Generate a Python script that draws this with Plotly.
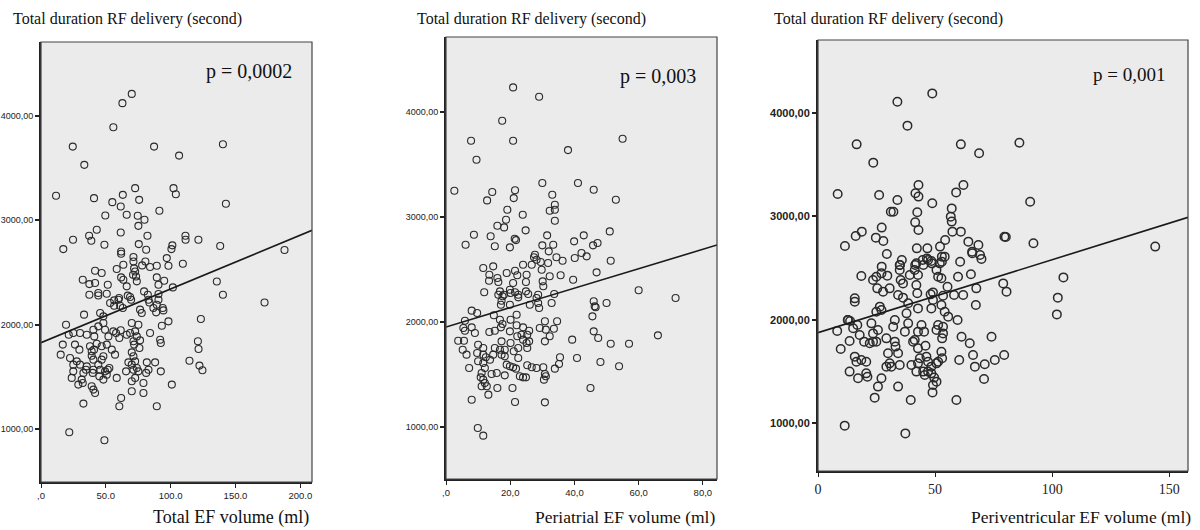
import plotly.graph_objects as go

# ---------------- data ----------------
total_ef = [
(70,4211),(62.8,4122),(55.8,3892),(24.5,3706),(87.2,3706),(140.3,3729),(33.4,3531),(106.5,3620),
(11.6,3235),(40.9,3212),(63.1,3244),(72.6,3308),(55.0,3174),(61.5,3132),(75.7,3196),(102.2,3308),
(104.0,3250),(142.6,3158),(91.3,3091),(49.6,3046),(66.1,3053),(74.6,3043),(79.8,3005),(75.1,2947),
(43.0,2909),(61.5,2883),(37.1,2852),(38.8,2804),(24.7,2813),(82.1,2852),(111.4,2852),(111.5,2813),
(121.4,2813),(48.9,2766),(75.4,2772),(81.1,2718),(17.2,2724),(61.8,2701),(100.6,2724),(101.3,2760),
(138.2,2754),(187.8,2715),(61.8,2680),(97.0,2638),(109.4,2584),(71.3,2648),(71.3,2606),(63.5,2574),
(58.4,2533),(80.5,2606),(78.0,2568),(84.1,2552),(89.3,2565),(98.3,2565),(71.8,2539),(72.6,2510),
(71.0,2478),(73.3,2462),(41.7,2517),(46.8,2495),(32.2,2431),(37.3,2389),(41.7,2399),(51.5,2383),
(61.8,2453),(63.5,2431),(66.1,2367),(73.9,2415),(89.3,2453),(95.0,2421),(90.6,2383),(101.7,2357),
(37.3,2287),(44.2,2303),(44.2,2280),(50.7,2297),(60.2,2255),(68.7,2265),(79.5,2319),(82.4,2287),
(90.6,2294),(59.7,2239),(56.4,2233),(53.3,2208),(56.4,2182),(66.9,2278),(69.5,2239),(82.9,2239),
(83.6,2213),(90.6,2239),(89.3,2191),(86.7,2160),(88.8,2118),(93.9,2160),(94.4,2137),(98.3,2032),
(93.2,1990),(123.3,2055),(76.4,2144),(77.7,2112),(63.1,2160),(61.0,2182),(45.6,2112),(48.1,2080),
(33.2,2096),(19.3,2000),(21.4,1904),(24.9,1920),(30.1,1920),(16.8,1809),(15.2,1713),(26.2,1809),
(29.6,1761),(35.3,1904),(40.4,1952),(41.1,1888),(44.2,1984),(48.1,2016),(49.4,1952),(52.0,1888),
(55.8,1936),(57.9,1920),(61.5,1946),(60.4,1872),(66.1,1904),(68.7,1920),(70.0,2016),(75.1,2000),
(72.6,1936),(73.9,1888),(71.3,1841),(71.8,1809),(76.4,1850),(75.9,1777),(70.0,1735),(71.3,1697),
(84.1,1920),(91.9,1856),(92.4,1825),(37.8,1793),(39.1,1745),(40.9,1761),(43.0,1818),(46.8,1793),
(50.7,1809),(40.4,1665),(39.1,1703),(46.8,1665),(48.1,1697),(54.6,1761),(57.1,1713),(22.4,1681),
(24.9,1617),(27.6,1649),(23.7,1490),(24.9,1553),(30.1,1617),(32.7,1538),(31.4,1474),(28.8,1426),
(32.2,1442),(35.3,1601),(34.7,1569),(40.4,1569),(39.9,1538),(44.2,1617),(45.6,1569),(45.0,1505),
(49.4,1553),(50.7,1521),(51.5,1569),(52.7,1585),(48.1,1474),(58.4,1490),(39.1,1410),(40.4,1378),
(41.7,1346),(65.6,1553),(67.4,1639),(70.0,1617),(72.6,1649),(71.3,1569),(73.9,1585),(75.1,1553),
(72.6,1490),(70.0,1458),(70.0,1362),(79.0,1442),(79.0,1346),(81.6,1639),(82.9,1569),(88.0,1639),
(81.1,1538),(92.4,1553),(100.9,1426),(114.5,1655),(121.0,1841),(121.5,1767),(122.2,1608),(124.5,1563),
(61.8,1298),(60.4,1218),(32.7,1244),(89.3,1218),(21.8,969),(48.9,893),(135.6,2414),(140.3,2287),
(172.4,2213),
]

periatrial_ef = [
(20.9,4234),(29.0,4145),(17.5,3916),(7.8,3726),(20.9,3726),(55.0,3745),(9.5,3545),(38.0,3637),
(2.6,3250),(14.4,3238),(12.8,3158),(21.5,3254),(21.1,3180),(30.0,3323),(41.1,3323),(46.0,3259),
(52.9,3164),(33.1,3212),(33.9,3117),(33.9,3069),(32.3,3060),(33.9,2964),(19.1,3069),(23.9,3021),
(18.7,2974),(18.1,2901),(16.0,2916),(24.8,2873),(8.7,2831),(13.9,2816),(6.1,2736),(15.2,2721),
(21.4,2793),(21.8,2780),(19.9,2711),(31.5,2825),(30.0,2730),(33.4,2736),(32.0,2673),(39.9,2768),
(42.9,2825),(45.8,2730),(47.2,2752),(51.0,2863),(51.3,2584),(11.6,2514),(14.7,2530),(13.5,2450),
(13.4,2393),(16.0,2419),(16.3,2381),(18.9,2466),(21.5,2488),(22.2,2445),(20.9,2371),(24.0,2545),
(25.1,2450),(24.9,2381),(26.7,2545),(27.7,2641),(27.4,2616),(28.2,2593),(29.5,2571),(29.8,2498),
(30.1,2387),(31.8,2562),(34.4,2616),(36.3,2584),(32.3,2435),(35.7,2445),(39.6,2403),(40.1,2609),
(42.2,2657),(43.8,2625),(46.9,2473),(30.3,2340),(11.9,2283),(16.8,2292),(16.3,2260),(18.0,2260),
(19.9,2307),(20.1,2276),(21.5,2283),(22.5,2260),(24.9,2292),(25.6,2267),(28.7,2260),(33.7,2267),
(17.6,2245),(17.3,2203),(17.1,2165),(19.9,2165),(22.5,2235),(26.1,2165),(28.2,2228),(28.7,2181),
(29.0,2133),(32.9,2181),(8.0,2108),(9.7,2086),(5.9,2012),(5.4,1943),(5.9,1917),(8.0,1949),
(9.0,1895),(3.8,1822),(5.6,1822),(5.2,1736),(6.4,1689),(7.2,1562),(14.9,2064),(16.8,2022),
(17.6,1981),(17.1,1949),(20.1,2022),(22.0,2069),(13.5,1905),(15.2,1917),(22.0,1969),(24.0,1949),
(25.9,1917),(25.3,1879),(19.9,1911),(22.2,1864),(23.5,1879),(24.0,1832),(29.2,1943),(30.8,2007),
(31.1,1927),(32.3,1864),(30.8,1816),(34.6,2007),(33.6,1936),(39.3,1832),(46.0,2197),(46.3,2149),
(45.6,2054),(46.0,1911),(47.4,1848),(50.0,2181),(40.8,1657),(48.1,1619),(45.0,1372),(10.0,1784),
(11.6,1752),(9.7,1705),(11.6,1689),(10.0,1626),(12.4,1664),(13.7,1641),(14.7,1689),(15.2,1752),
(17.3,1816),(16.8,1736),(18.3,1736),(17.3,1689),(18.3,1673),(20.1,1800),(21.1,1721),(22.5,1752),
(22.5,1657),(25.1,1800),(25.9,1816),(25.3,1752),(11.6,1610),(12.1,1562),(11.1,1514),(10.8,1473),
(11.6,1451),(12.1,1419),(12.7,1388),(11.1,1388),(14.2,1505),(15.8,1514),(18.3,1492),(20.9,1569),
(20.7,1372),(16.0,1372),(18.9,1594),(19.9,1578),(21.8,1556),(23.0,1483),(24.0,1473),(24.9,1473),
(25.3,1588),(26.7,1569),(28.2,1562),(30.3,1569),(30.8,1505),(31.1,1483),(30.5,1451),(33.9,1556),
(35.2,1600),(35.5,1664),(8.0,1260),(13.2,1308),(21.5,1238),(30.8,1235),(9.9,991),(11.6,918),
(60.0,2302),(71.5,2228),(66.0,1873),(57.0,1793),(51.3,1793),(53.9,1578),(46.6,2140),
]

periventricular_ef = [
(48.8,4190),(33.9,4110),(38.2,3878),(16.5,3697),(61.0,3697),(68.8,3610),(86.0,3713),(23.6,3520),
(8.4,3217),(26.1,3207),(33.9,3159),(41.6,3223),(42.9,3304),(42.9,3191),(48.8,3126),(59.0,3232),
(62.1,3304),(90.6,3142),(31.1,3045),(32.2,3045),(42.4,3039),(41.5,2942),(42.9,2868),(57.1,3077),
(56.7,2997),(57.1,2949),(57.4,2852),(61.0,2852),(11.5,2713),(16.1,2810),(18.7,2852),(24.7,2794),
(27.2,2891),(27.9,2762),(29.4,2636),(42.2,2690),(46.7,2690),(52.1,2707),(54.3,2771),(64.2,2755),
(68.5,2723),(69.2,2626),(65.9,2642),(79.6,2803),(80.2,2800),(92.0,2739),(144.0,2707),(60.7,2561),
(35.8,2578),(35.0,2529),(41.5,2529),(44.7,2578),(46.5,2593),(45.0,2529),(48.6,2545),(52.9,2610),
(52.9,2561),(27.2,2513),(18.5,2423),(23.5,2384),(24.9,2416),(27.1,2448),(25.3,2303),(27.8,2271),
(30.6,2303),(34.9,2529),(34.9,2481),(35.3,2384),(36.3,2351),(39.2,2433),(41.3,2481),(42.0,2545),
(42.7,2433),(42.0,2336),(47.0,2578),(48.4,2568),(50.6,2481),(51.3,2416),(52.7,2400),(54.1,2610),
(52.0,2545),(55.3,2319),(59.8,2416),(65.3,2439),(67.6,2303),(65.8,2658),(69.8,2588),(79.1,2351),
(80.5,2271),(42.4,2255),(48.1,2245),(49.1,2264),(53.4,2232),(58.1,2239),(62.0,2239),(34.2,2239),
(36.3,2213),(15.7,2206),(29.6,2426),(15.7,2174),(8.2,1891),(9.7,1716),(13.5,1794),(12.8,1997),
(15.0,1916),(16.8,1949),(17.8,1852),(13.5,1497),(17.1,1432),(20.6,1480),(21.1,1448),(15.7,1642),
(16.4,1593),(18.5,1610),(20.6,1593),(19.7,1787),(22.1,1771),(23.5,1787),(24.9,1787),(22.8,1964),
(23.5,1867),(25.6,1900),(26.4,2126),(27.1,2094),(24.9,2077),(29.2,1819),(29.9,1674),(30.6,1577),
(31.3,1545),(29.2,1545),(27.1,1432),(25.6,1352),(24.2,1245),(32.8,1787),(33.1,1739),(34.2,1674),
(34.2,1352),(34.9,1561),(32.1,1932),(32.8,1997),(37.1,1884),(37.8,2061),(38.5,1964),(39.9,1561),
(42.0,1497),(42.7,1577),(43.5,1626),(44.9,1497),(45.6,1465),(47.0,1497),(48.4,1480),(49.1,1368),
(48.9,1296),(46.3,1642),(47.0,1593),(45.9,1748),(42.7,1884),(44.2,1949),(45.3,1884),(41.3,1803),
(40.6,1787),(42.7,1722),(48.4,1545),(50.6,1577),(51.3,1593),(52.7,1690),(53.0,1626),(49.6,1439),
(50.6,1400),(39.6,1223),(59.1,1223),(11.4,974),(37.3,899),(38.5,2158),(42.7,2109),(48.4,2109),
(49.1,2191),(52.7,2142),(54.1,2077),(55.6,2029),(51.3,1949),(50.6,1900),(53.4,1932),(53.0,1819),
(53.4,1867),(59.6,1997),(61.3,1835),(60.3,1610),(64.8,1771),(66.2,1658),(67.0,1545),(67.4,2142),
(71.2,1568),(70.9,1426),(74.1,1835),(75.5,1610),(79.5,1658),(102.4,2213),(102.0,2051),(104.8,2409),
(12.7,1997),(13.7,1987),
]

# fit lines (end points)
fit1_x, fit1_y = [0, 209], [1828, 2904]
fit2_x, fit2_y = [0, 84.4], [1952, 2733]
fit3_x, fit3_y = [0, 158], [1874, 2990]

y_title = "Total duration RF delivery (second)"
x_titles = ["Total EF volume (ml)", "Periatrial EF volume (ml)", "Periventricular EF volume (ml)"]
p_texts = ["p = 0,0002", "p = 0,003", "p = 0,001"]

y_tickvals = [1000, 2000, 3000, 4000]
y_ticktext = ["1000,00", "2000,00", "3000,00", "4000,00"]
x1_tickvals = [0, 50, 100, 150, 200]
x1_ticktext = [",0", "50.0", "100.0", "150.0", "200.0"]
x2_tickvals = [0, 20, 40, 60, 80]
x2_ticktext = [",0", "20,0", "40,0", "60,0", "80,0"]
x3_tickvals = [0, 50, 100, 150]
x3_ticktext = ["0", "50", "100", "150"]

# ---------------- layout geometry (pixels) ----------------
W, H = 1200, 530
def dx(a, b):
    return [a / W, b / W]
def dy(top, bottom):
    return [1 - bottom / H, 1 - top / H]

panels = [
    dict(data=total_ef, fx=fit1_x, fy=fit1_y, xd=dx(41, 312), yd=dy(42, 482),
         xr=[0, 209], yr=[493, 4708], tv=x1_tickvals, tt=x1_ticktext, msize=7, mw=1.1),
    dict(data=periatrial_ef, fx=fit2_x, fy=fit2_y, xd=dx(446, 717), yd=dy(37, 479),
         xr=[0, 84.4], yr=[505, 4714], tv=x2_tickvals, tt=x2_ticktext, msize=7, mw=1.1),
    dict(data=periventricular_ef, fx=fit3_x, fy=fit3_y, xd=dx(818, 1188), yd=dy(40, 471),
         xr=[0, 158], yr=[535, 4707], tv=x3_tickvals, tt=x3_ticktext, msize=8.5, mw=1.5),
]

fig = go.Figure()
layout = dict(
    width=W, height=H, margin=dict(l=0, r=0, t=0, b=0, autoexpand=False),
    paper_bgcolor="white", plot_bgcolor="#ebebeb", showlegend=False,
)
shapes = []
annotations = []
serif = "Liberation Serif"
sans = "Liberation Sans"

title_x = [11, 415, 772]
xlabel_right = [311, 717, 1193]
xlabel_size = [18, 17.5, 17.5]
p_pos = [(294, 72), (698, 77), (1167, 75)]
p_size = [20, 20, 19]

for i, p in enumerate(panels):
    n = "" if i == 0 else str(i + 1)
    xs = [d[0] for d in p["data"]]
    ys = [d[1] for d in p["data"]]
    fig.add_trace(go.Scatter(
        x=xs, y=ys, mode="markers", xaxis="x" + n, yaxis="y" + n,
        marker=dict(symbol="circle-open", size=p["msize"], color="#2a2a2a",
                    line=dict(width=p["mw"], color="#2a2a2a")),
        hoverinfo="skip"))
    fig.add_trace(go.Scatter(
        x=p["fx"], y=p["fy"], mode="lines", xaxis="x" + n, yaxis="y" + n,
        line=dict(color="#1a1a1a", width=1.6), hoverinfo="skip"))
    big = (i == 2)
    layout["xaxis" + n] = dict(
        domain=p["xd"], range=p["xr"], anchor="y" + n, showgrid=False, zeroline=False,
        automargin=False,
        tickvals=p["tv"], ticktext=p["tt"], ticks="outside", ticklen=4, tickwidth=1,
        tickcolor="#222", showline=True, linecolor="#222", linewidth=2,
        tickfont=dict(family=serif if big else sans, size=14 if big else 9.5, color="#222"),
    )
    layout["yaxis" + n] = dict(
        domain=p["yd"], range=p["yr"], anchor="x" + n, showgrid=False, zeroline=False,
        automargin=False,
        tickvals=y_tickvals, ticktext=y_ticktext, ticks="outside", ticklen=4, tickwidth=1.5,
        tickcolor="#222", showline=True, linecolor="#222", linewidth=2,
        tickfont=dict(family=sans, size=11 if big else 9, color="#222", weight="bold" if big else "normal"),
    )
    # frame (top / right)
    shapes.append(dict(type="rect", xref="x" + n + " domain", yref="y" + n + " domain",
                       x0=0, x1=1, y0=0, y1=1, line=dict(color="#444", width=1.2),
                       fillcolor="rgba(0,0,0,0)", layer="above"))
    annotations.append(dict(text=y_title, xref="paper", yref="paper",
                            x=title_x[i] / W, y=1 - 19 / H, xanchor="left", yanchor="middle",
                            showarrow=False, font=dict(family=serif, size=16, color="#111")))
    annotations.append(dict(text=x_titles[i], xref="paper", yref="paper",
                            x=xlabel_right[i] / W, y=1 - 517 / H, xanchor="right", yanchor="middle",
                            showarrow=False, font=dict(family=serif, size=xlabel_size[i], color="#111")))
    annotations.append(dict(text=p_texts[i], xref="paper", yref="paper",
                            x=p_pos[i][0] / W, y=1 - p_pos[i][1] / H, xanchor="right", yanchor="middle",
                            showarrow=False, font=dict(family=serif, size=p_size[i], color="#111")))

layout["shapes"] = shapes
layout["annotations"] = annotations
fig.update_layout(**layout)
fig.write_html("out.html", config={"displayModeBar": False},
               post_script="document.body.style.margin='0';document.body.style.overflow='hidden';")
